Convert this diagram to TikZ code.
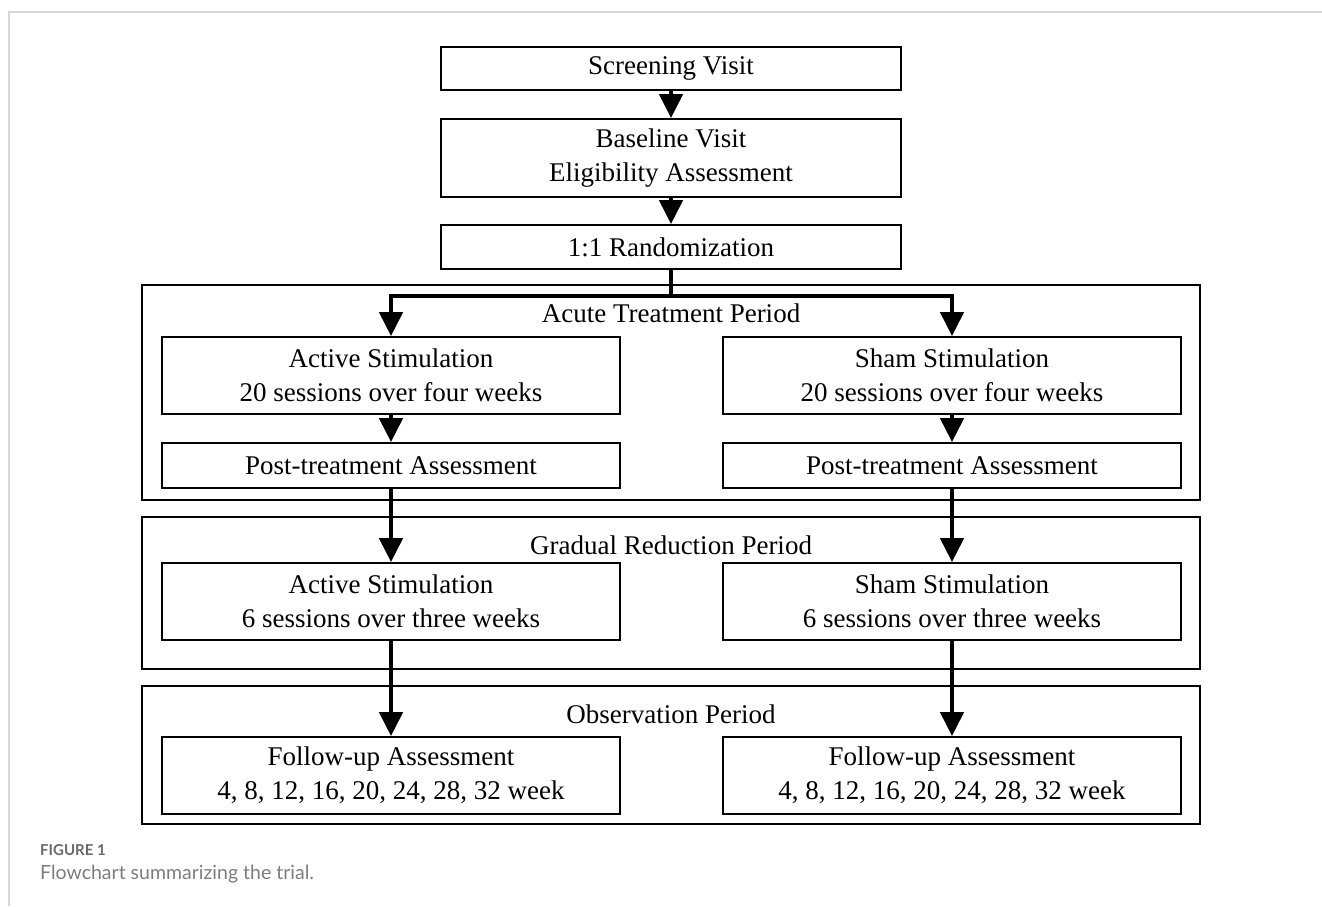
\documentclass[tikz,border=0pt]{standalone}
\usepackage{fontspec}
\setmainfont{Liberation Serif}
\newfontfamily\capfont{Lato}
\usetikzlibrary{arrows.meta}
\definecolor{capgray}{RGB}{105,105,105}
\definecolor{captext}{RGB}{125,125,125}
\definecolor{framegray}{RGB}{215,215,215}

\begin{document}
\begin{tikzpicture}[x=1pt,y=-1pt]
	\tikzstyle{every node}=[font=\fontsize{27}{34}\selectfont]
	\tikzstyle{box}=[draw, line width=1.8pt, align=center, inner sep=0pt, minimum width=460pt]
	\tikzstyle{sidebox}=[box, minimum width=458pt]
	\tikzstyle{period}=[draw, line width=1.8pt, minimum width=1058pt, inner sep=0pt]
	\tikzstyle{flow}=[line width=4.5pt, -{Triangle[width=23pt,length=24pt]}]
	\tikzstyle{flowline}=[line width=4.5pt]
	
	\useasboundingbox (0,0) rectangle (1322,906);
	\draw[framegray, line width=1.5pt] (9,906) -- (9,12) -- (1322,12);
	
	% top part
	\node[box, minimum height=43pt] (scr) at (671,68.5) {Screening Visit};
	\node[box, minimum height=78pt] (base) at (671,158) {Baseline Visit\\Eligibility Assessment};
	\node[box, minimum height=44pt] (rand) at (671,247) {1:1 Randomization};
	
	% periods
	\node[period, minimum height=215pt] (acute) at (671,392.5) {};
	\node[period, minimum height=152pt] (gradual) at (671,593) {};
	\node[period, minimum height=138pt] (observ) at (671,755) {};
	\node (acutett) at (671,313) {Acute Treatment Period};
	\node (gradualtt) at (671,545) {Gradual Reduction Period};
	\node (observtt) at (671,714) {Observation Period};
	
	% two arms
	\node[sidebox, minimum height=77pt] (act1) at (391,375.5) {Active Stimulation\\20 sessions over four weeks};
	\node[sidebox, minimum height=77pt] (sham1) at (952,375.5) {Sham Stimulation\\20 sessions over four weeks};
	\node[sidebox, minimum height=45pt] (post1) at (391,465.5) {Post-treatment Assessment};
	\node[sidebox, minimum height=45pt] (post2) at (952,465.5) {Post-treatment Assessment};
	\node[sidebox, minimum height=77pt] (act2) at (391,601.5) {Active Stimulation\\6 sessions over three weeks};
	\node[sidebox, minimum height=77pt] (sham2) at (952,601.5) {Sham Stimulation\\6 sessions over three weeks};
	\node[sidebox, minimum height=77pt] (fu1) at (391,775.5) {Follow-up Assessment\\4, 8, 12, 16, 20, 24, 28, 32 week};
	\node[sidebox, minimum height=77pt] (fu2) at (952,775.5) {Follow-up Assessment\\4, 8, 12, 16, 20, 24, 28, 32 week};
	
	\draw[flow] (scr) -- (base);
	\draw[flow] (base) -- (rand);
	\coordinate (split) at (671,296);
	\draw[flowline] (rand) -- (split);
	\draw[flow] (split) -| (act1);
	\draw[flow] (split) -| (sham1);
	\foreach \a/\b in {act1/post1, sham1/post2, post1/act2, post2/sham2, act2/fu1, sham2/fu2}
		\draw[flow] (\a) -- (\b);
	
	% caption
	\node[anchor=west, inner sep=0pt, text=capgray, font=\capfont\bfseries\fontsize{15}{18}\selectfont] (figno) at (40,850) {FIGURE 1};
	\node[anchor=west, inner sep=0pt, text=captext, font=\capfont\fontsize{19.5}{23}\selectfont] (figcap) at (40,874) {Flowchart summarizing the trial.};
\end{tikzpicture}
\end{document}
